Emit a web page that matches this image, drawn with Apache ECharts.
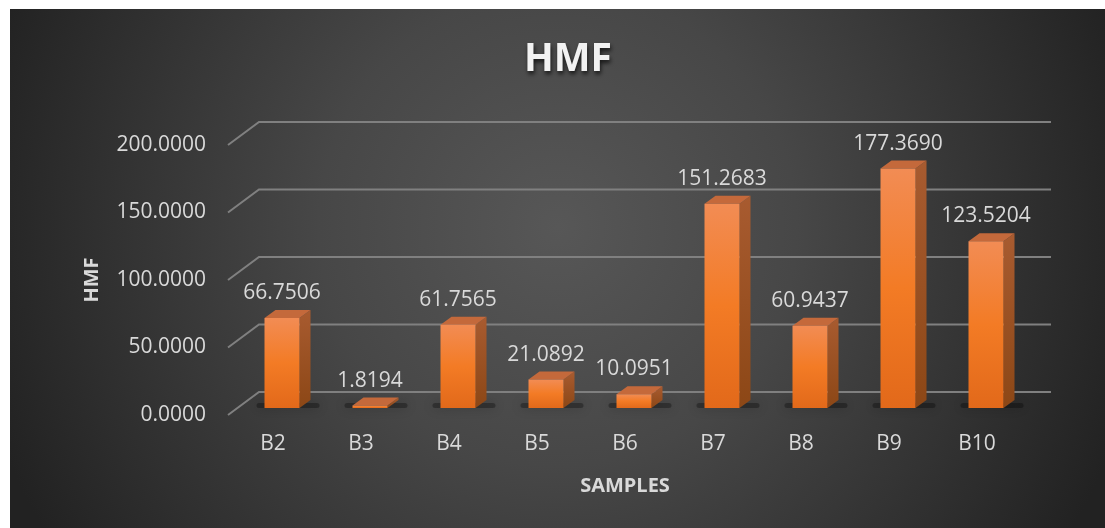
<!DOCTYPE html>
<html>
<head>
<meta charset="utf-8">
<script src="https://cdn.jsdelivr.net/npm/echarts@6/dist/echarts.min.js"></script>
<style>
  html, body { margin: 0; padding: 0; background: #fff; }
  #main { width: 1105px; height: 528px; }
</style>
</head>
<body>
<div id="main"></div>
<script>
const categories = ['B2', 'B3', 'B4', 'B5', 'B6', 'B7', 'B8', 'B9', 'B10'];
const hmfValues = [66.7506, 1.8194, 61.7565, 21.0892, 10.0951, 151.2683, 60.9437, 177.3690, 123.5204];
const yTicks = [0, 50, 100, 150, 200];

const labelColor = '#d9d9d9';
const font = '"Open Sans", "Noto Sans", sans-serif';

let myChart = echarts.init(document.getElementById('main'));

// back wall lines + the slanted stubs on the left
function renderFrame(params, api) {
  const v = api.value(1);
  const p = api.coord([0, v]);
  const band = api.size([1, 0])[0];
  const left = p[0] - band / 2;
  const right = left + band * categories.length;
  return {
    type: 'polyline',
    shape: { points: [[left - 1, p[1]], [left + 30, p[1] - 23], [right + 30, p[1] - 23]] },
    style: { stroke: '#808080', lineWidth: 2, fill: null }
  };
}

function renderBar(params, api) {
  const val = api.value(1);
  const p = api.coord([api.value(0), val]);
  const base = api.coord([api.value(0), 0]);
  const cx = p[0] + 9;
  const w = 35, dx = 11, dy = -8;
  const x0 = cx - w / 2, x1 = cx + w / 2;
  const top = p[1] - 7;
  const bottom = base[1] - 7;
  return {
    type: 'group',
    children: [
      {
        type: 'rect',
        shape: { x: x0 - 8, y: bottom - 5, width: w + 28, height: 5, r: 3 },
        style: { fill: 'rgba(0,0,0,0.3)', shadowBlur: 12, shadowColor: 'rgba(0,0,0,0.8)' }
      },
      {
        type: 'polygon',
        shape: { points: [[x1, top], [x1 + dx, top + dy], [x1 + dx, bottom + dy], [x1, bottom]] },
        style: {
          fill: new echarts.graphic.LinearGradient(0, 0, 0, 1, [
            { offset: 0, color: '#a85b30' },
            { offset: 1, color: '#8c4716' }
          ])
        }
      },
      {
        type: 'polygon',
        shape: { points: [[x0, top], [x1, top], [x1 + dx, top + dy], [x0 + dx, top + dy]] },
        style: { fill: '#c4693b' }
      },
      {
        type: 'rect',
        shape: { x: x0, y: top, width: w, height: bottom - top },
        style: {
          fill: new echarts.graphic.LinearGradient(0, 0, 0, 1, [
            { offset: 0, color: '#f28c54' },
            { offset: 0.5, color: '#f37b25' },
            { offset: 1, color: '#e2691a' }
          ])
        }
      },
      {
        type: 'text',
        x: cx,
        y: top - 25,
        style: {
          text: val.toFixed(4),
          fill: labelColor,
          font: '21px ' + font,
          align: 'center',
          verticalAlign: 'middle'
        }
      }
    ]
  };
}

let option = {
  backgroundColor: '#ffffff',
  graphic: [
    {
      type: 'rect',
      left: 10,
      top: 9,
      z: -10,
      silent: true,
      shape: { width: 1095, height: 519 },
      style: {
        fill: new echarts.graphic.RadialGradient(0.5, 0.42, 1.15, [
          { offset: 0, color: '#575757' },
          { offset: 0.4, color: '#474747' },
          { offset: 1, color: '#222222' }
        ])
      }
    }
  ],
  title: {
    text: 'HMF',
    left: 563,
    top: 35,
    textAlign: 'center',
    textStyle: {
      color: '#f2f2f2',
      fontFamily: font,
      fontWeight: 'bold',
      fontSize: 39,
      textShadowColor: 'rgba(0,0,0,0.7)',
      textShadowBlur: 4,
      textShadowOffsetX: 1,
      textShadowOffsetY: 3
    }
  },
  grid: { left: 229, right: 84, top: 145, bottom: 113 },
  xAxis: {
    type: 'category',
    data: categories,
    axisLine: { show: false },
    axisTick: { show: false },
    axisLabel: { color: labelColor, fontFamily: font, fontSize: 21, margin: 19 },
    name: 'SAMPLES',
    nameLocation: 'middle',
    nameGap: 61,
    nameTextStyle: { color: labelColor, fontFamily: font, fontSize: 20, fontWeight: 'bold' }
  },
  yAxis: {
    type: 'value',
    min: 0,
    max: 200,
    interval: 50,
    axisLine: { show: false },
    axisTick: { show: false },
    splitLine: { show: false },
    axisLabel: {
      color: labelColor,
      fontFamily: font,
      fontSize: 21,
      margin: 23,
      formatter: v => v.toFixed(4)
    },
    name: 'HMF',
    nameLocation: 'middle',
    nameRotate: 90,
    nameGap: 127,
    nameTextStyle: { color: labelColor, fontFamily: font, fontSize: 20, fontWeight: 'bold' }
  },
  series: [
    {
      type: 'custom',
      silent: true,
      z: 1,
      renderItem: renderFrame,
      data: yTicks.map(v => [0, v])
    },
    {
      type: 'custom',
      z: 2,
      renderItem: renderBar,
      data: hmfValues.map((v, i) => [i, v])
    }
  ],
  animation: false
};

myChart.setOption(option);
</script>
</body>
</html>
